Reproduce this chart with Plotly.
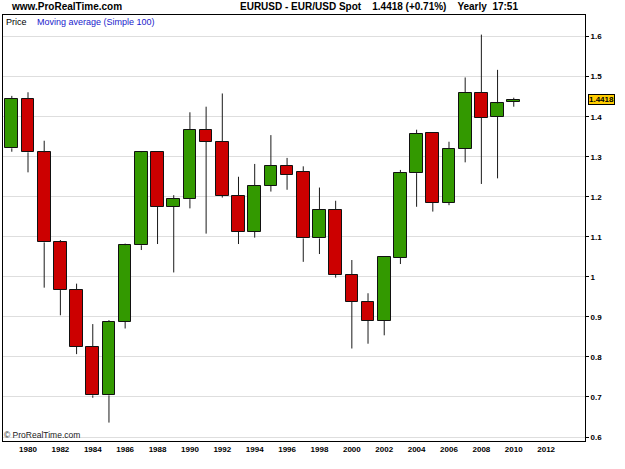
import plotly.graph_objects as go

years = list(range(1979, 2011))
opens = [1.321, 1.444, 1.311, 1.086, 0.967, 0.825, 0.704, 0.8875, 1.079, 1.311,
         1.175, 1.194, 1.367, 1.3375, 1.2025, 1.113, 1.227, 1.277, 1.2625, 1.096,
         1.168, 1.005, 0.937, 0.890, 1.048, 1.259, 1.359, 1.185, 1.320, 1.460,
         1.400, 1.4375]
highs = [1.452, 1.461, 1.340, 1.092, 0.983, 0.882, 0.892, 1.083, 1.3125, 1.311,
         1.204, 1.411, 1.425, 1.458, 1.250, 1.282, 1.354, 1.297, 1.276, 1.223,
         1.190, 1.042, 0.959, 1.050, 1.267, 1.3675, 1.359, 1.3375, 1.498, 1.605,
         1.517, 1.4475]
lows = [1.3125, 1.261, 0.973, 0.904, 0.807, 0.698, 0.636, 0.871, 1.067, 1.082,
        1.011, 1.171, 1.108, 1.198, 1.082, 1.098, 1.213, 1.2175, 1.0375, 1.057,
        0.998, 0.821, 0.833, 0.854, 1.032, 1.175, 1.163, 1.179, 1.286, 1.232,
        1.246, 1.425]
closes = [1.444, 1.311, 1.086, 0.967, 0.825, 0.704, 0.8875, 1.079, 1.311, 1.175,
          1.194, 1.367, 1.3375, 1.2025, 1.113, 1.227, 1.277, 1.254, 1.096, 1.167,
          1.005, 0.938, 0.890, 1.050, 1.259, 1.357, 1.185, 1.320, 1.460, 1.398,
          1.433, 1.4418]

x_ticks = list(range(1980, 2013, 2))
y_ticks = [0.6, 0.7, 0.8, 0.9, 1.0, 1.1, 1.2, 1.3, 1.4, 1.5, 1.6]

last_price = "1.4418"
title_text = "EURUSD - EUR/USD Spot    1.4418 (+0.71%)    Yearly  17:51"

GREEN = "#339900"
RED = "#cc0000"
FONT = "Liberation Sans, Arial, sans-serif"

fig = go.Figure()

# wicks: upper and lower segments
wx, wy = [], []
for yr, o, h, l, c in zip(years, opens, highs, lows, closes):
    top = max(o, c)
    bot = min(o, c)
    wx += [yr, yr, None, yr, yr, None]
    wy += [top, h, None, l, bot, None]
fig.add_trace(go.Scatter(x=wx, y=wy, mode="lines",
                         line=dict(color="#1a1a1a", width=1),
                         hoverinfo="skip", showlegend=False))

colors = [GREEN if c >= o else RED for o, c in zip(opens, closes)]
fig.add_trace(go.Bar(
    x=years,
    y=[c - o for o, c in zip(opens, closes)],
    base=opens,
    width=0.78,
    marker=dict(color=colors, line=dict(color="#111111", width=1)),
    showlegend=False,
))

fig.update_layout(
    width=625, height=469,
    margin=dict(l=3, r=40, t=15, b=28),
    paper_bgcolor="white",
    plot_bgcolor="white",
    font=dict(family=FONT, color="black"),
    barmode="overlay",
    bargap=0,
    showlegend=False,
    xaxis=dict(
        range=[1978.456, 2014.40],
        tickvals=x_ticks,
        ticktext=[str(v) for v in x_ticks],
        tickfont=dict(size=8, weight="bold", family=FONT),
        showgrid=False,
        zeroline=False,
        showline=True, linecolor="black", linewidth=1, mirror=True,
        ticks="",
    ),
    yaxis=dict(
        side="right",
        range=[0.59, 1.654],
        tickvals=y_ticks,
        ticktext=["0.6", "0.7", "0.8", "0.9", "1", "1.1", "1.2", "1.3", "1.4", "1.5", "1.6"],
        tickfont=dict(size=8, weight="bold", family=FONT),
        showgrid=True, gridcolor="#dedede", gridwidth=1,
        zeroline=False,
        showline=True, linecolor="black", linewidth=1, mirror=True,
        ticks="outside", ticklen=3, tickcolor="black",
    ),
    annotations=[
        dict(text="www.ProRealTime.com", xref="paper", yref="paper",
             x=0.0, y=1.0, xanchor="left", yanchor="bottom", xshift=6, yshift=1,
             showarrow=False, font=dict(size=10, weight="bold", family=FONT)),
        dict(text=title_text, xref="paper", yref="paper",
             x=0.0, y=1.0, xanchor="left", yanchor="bottom", xshift=235, yshift=1,
             showarrow=False, font=dict(size=10, weight="bold", family=FONT)),
        dict(text="Price", xref="paper", yref="paper",
             x=0.0, y=1.0, xanchor="left", yanchor="top", xshift=1, yshift=0,
             showarrow=False, font=dict(size=9, family=FONT, color="black")),
        dict(text="Moving average (Simple 100)", xref="paper", yref="paper",
             x=0.0, y=1.0, xanchor="left", yanchor="top", xshift=32, yshift=0,
             showarrow=False, font=dict(size=9, family=FONT, color="#1a1acc")),
        dict(text="© ProRealTime.com", xref="paper", yref="paper",
             x=0.0, y=0.0, xanchor="left", yanchor="bottom", xshift=-1, yshift=-1,
             showarrow=False, font=dict(size=8.5, family=FONT, color="#222222")),
        dict(text=last_price, xref="paper", yref="y",
             x=1.0, y=float(last_price), xanchor="left", yanchor="middle", xshift=3,
             showarrow=False, bgcolor="#ffcc00", bordercolor="black", borderwidth=1,
             borderpad=0, font=dict(size=8, weight="bold", family=FONT)),
    ],
)

fig.write_html("out.html")
